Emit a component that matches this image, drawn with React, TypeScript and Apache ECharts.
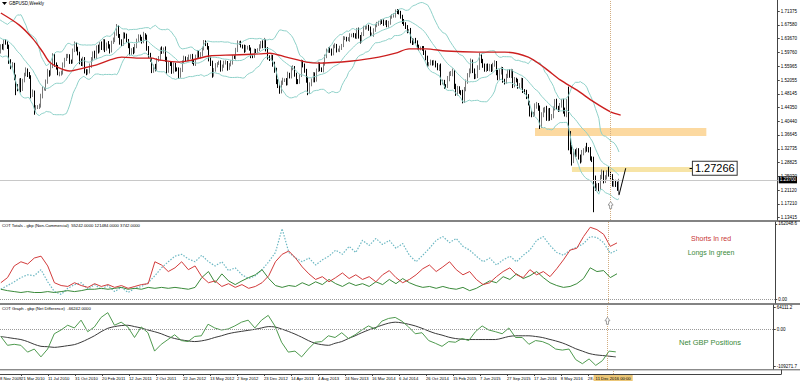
import React, { useEffect, useRef } from 'react';
import * as echarts from 'echarts';

// ---------- time axis (weekly bars, first week = 8 Nov 2009) ----------
const MONTHS = ['Jan', 'Feb', 'Mar', 'Apr', 'May', 'Jun', 'Jul', 'Aug', 'Sep', 'Oct', 'Nov', 'Dec'];
const FIRST_WEEK = Date.UTC(2009, 10, 8);
const TOTAL_WEEKS = 470;
const weekDates: string[] = Array.from({ length: TOTAL_WEEKS }, (_, i) => {
  const d = new Date(FIRST_WEEK + i * 7 * 86400000);
  return `${d.getUTCDate()} ${MONTHS[d.getUTCMonth()]} ${d.getUTCFullYear()}`;
});
const labelWeeks = [19, 35, 51, 67, 83, 99, 115, 131, 147, 163, 179, 195, 211, 227, 243, 259, 275, 291, 307, 323, 339, 355];

// ---------- GBPUSD weekly closes (index 0 = 8 Nov 2009) ----------
const closes = [
  1.6690, 1.6630, 1.6500, 1.6640, 1.6280, 1.6150, 1.6000, 1.6150, 1.6120, 1.6290, 1.6250, 1.6150, 1.5720, 1.5600, 1.5650, 1.5280, 1.5000, 1.4950, 1.5200, 1.4950,
  1.5200, 1.5350, 1.5480, 1.5360, 1.5300, 1.4780, 1.4850, 1.4430, 1.4450, 1.4460, 1.4480, 1.4750, 1.4950, 1.4950, 1.5160, 1.5430, 1.5380, 1.5600, 1.5900, 1.5650,
  1.5560, 1.5390, 1.5400, 1.5410, 1.5620, 1.5780, 1.5870, 1.5880, 1.5740, 1.5720, 1.6030, 1.6210, 1.6080, 1.5960, 1.5740, 1.5650, 1.5800, 1.5470, 1.5410, 1.5450,
  1.5600, 1.5800, 1.5950, 1.5850, 1.6140, 1.6030, 1.6220, 1.6110, 1.6300, 1.6080, 1.6220, 1.6150, 1.6030, 1.6260, 1.6330, 1.6500, 1.6690, 1.6460, 1.6280, 1.6220,
  1.6490, 1.6440, 1.6320, 1.6180, 1.5960, 1.6050, 1.6000, 1.6160, 1.6320, 1.6420, 1.6380, 1.6290, 1.6470, 1.6420, 1.6120, 1.5900, 1.5780, 1.5490, 1.5580, 1.5520,
  1.5770, 1.5820, 1.6080, 1.6000, 1.6070, 1.5800, 1.5470, 1.5680, 1.5650, 1.5450, 1.5640, 1.5520, 1.5500, 1.5330, 1.5480, 1.5710, 1.5830, 1.5780, 1.5800, 1.5860,
  1.5890, 1.5730, 1.5660, 1.5860, 1.6000, 1.5880, 1.5930, 1.6090, 1.6260, 1.6200, 1.6120, 1.5800, 1.5680, 1.5360, 1.5490, 1.5620, 1.5670, 1.5700, 1.5510, 1.5600,
  1.5700, 1.5700, 1.5540, 1.5630, 1.5700, 1.5860, 1.5850, 1.6050, 1.6240, 1.6250, 1.6160, 1.6150, 1.6040, 1.6120, 1.6130, 1.6070, 1.5890, 1.5880, 1.6030, 1.6020,
  1.6060, 1.6150, 1.6250, 1.6150, 1.6300, 1.6080, 1.5860, 1.5800, 1.5860, 1.5650, 1.5490, 1.5180, 1.5050, 1.4900, 1.5130, 1.5200, 1.5200, 1.5120, 1.5360, 1.5300,
  1.5540, 1.5550, 1.5370, 1.5170, 1.5150, 1.5330, 1.5700, 1.5620, 1.5480, 1.5210, 1.4870, 1.5080, 1.5200, 1.5360, 1.5210, 1.5490, 1.5650, 1.5520, 1.5480, 1.5650,
  1.5870, 1.6030, 1.6090, 1.6020, 1.5960, 1.6150, 1.6180, 1.6040, 1.6040, 1.6110, 1.6180, 1.6370, 1.6380, 1.6350, 1.6350, 1.6470, 1.6470, 1.6450, 1.6430, 1.6620,
  1.6430, 1.6310, 1.6500, 1.6660, 1.6680, 1.6700, 1.6660, 1.6500, 1.6500, 1.6610, 1.6730, 1.6790, 1.6800, 1.6870, 1.6850, 1.6790, 1.6840, 1.6740, 1.6810, 1.6970,
  1.7010, 1.7020, 1.7150, 1.7110, 1.7090, 1.6990, 1.6850, 1.6790, 1.6690, 1.6590, 1.6590, 1.6320, 1.6260, 1.6320, 1.6280, 1.6140, 1.6090, 1.6100, 1.6090, 1.5990,
  1.5830, 1.5650, 1.5670, 1.5710, 1.5670, 1.5710, 1.5630, 1.5540, 1.5580, 1.5150, 1.5150, 1.5040, 1.5030, 1.5240, 1.5380, 1.5390, 1.5440, 1.5040, 1.4830, 1.4970,
  1.4870, 1.4850, 1.4640, 1.4950, 1.5150, 1.5350, 1.5450, 1.5720, 1.5480, 1.5300, 1.5310, 1.5560, 1.5890, 1.5740, 1.5600, 1.5500, 1.5610, 1.5510, 1.5610, 1.5500,
  1.5640, 1.5700, 1.5420, 1.5270, 1.5430, 1.5520, 1.5180, 1.5160, 1.5310, 1.5450, 1.5330, 1.5450, 1.5060, 1.5230, 1.5190, 1.5030, 1.5050, 1.5210, 1.4910, 1.4870,
  1.4740, 1.4570, 1.4270, 1.4240, 1.4250, 1.4480, 1.4500, 1.4410, 1.3920, 1.4230, 1.4370, 1.4400, 1.4120, 1.4350, 1.4140, 1.4200, 1.4400, 1.4600, 1.4430, 1.4380,
  1.4500, 1.4600, 1.4340, 1.4250, 1.4610, 1.3680, 1.3300, 1.2950, 1.3200, 1.3110, 1.3220, 1.3050, 1.2950, 1.3160, 1.3220, 1.3280, 1.3260, 1.3250, 1.3000, 1.2970,
  1.2430, 1.2190, 1.2230, 1.2190, 1.2480, 1.2590, 1.2380, 1.2470, 1.2590, 1.2560, 1.2490, 1.2270, 1.2340, 1.2280, 1.2180, 1.2370,
];
// wick extension above / below the body, in thousandths
const wickUp = [
  6, 5, 8, 4, 9, 5, 4, 6, 7, 5, 6, 4, 5, 7, 6, 4, 8, 9, 5, 6,
  4, 6, 8, 5, 7, 4, 9, 6, 5, 4, 6, 7, 8, 5, 6, 9, 5, 7, 6, 4,
  5, 7, 4, 6, 8, 5, 7, 6, 5, 4, 6, 8, 5, 6, 4, 7, 6, 5, 4, 6,
  7, 5, 6, 8, 4, 6, 5, 7, 6, 5, 4, 8, 6, 5, 7, 6, 9, 5, 4, 7,
  6, 5, 7, 4, 6, 5, 8, 6, 5, 7, 6, 4, 9, 5, 6, 4, 7, 5, 6, 8,
  5, 6, 4, 7, 5, 8, 6, 4, 5, 7, 6, 5, 4, 6, 7, 5, 6, 4, 5, 6,
  4, 5, 7, 6, 5, 4, 6, 5, 7, 6, 5, 4, 6, 7, 5, 6, 4, 5, 6, 4,
  5, 6, 4, 5, 7, 5, 4, 6, 8, 5, 6, 4, 5, 7, 4, 6, 5, 4, 6, 5,
  4, 6, 5, 7, 9, 6, 5, 4, 6, 5, 7, 6, 5, 4, 6, 7, 5, 6, 8, 5,
  6, 7, 5, 4, 6, 5, 8, 6, 5, 4, 9, 6, 5, 7, 6, 4, 7, 5, 4, 6,
  5, 6, 4, 5, 7, 5, 6, 4, 5, 6, 4, 7, 5, 4, 6, 5, 4, 6, 7, 5,
  6, 4, 5, 7, 5, 4, 6, 5, 4, 5, 6, 5, 7, 4, 5, 6, 4, 5, 6, 5,
  5, 6, 4, 5, 8, 6, 5, 7, 4, 6, 5, 8, 6, 5, 7, 4, 6, 5, 6, 7,
  5, 6, 4, 7, 5, 6, 4, 5, 6, 9, 7, 6, 5, 8, 6, 7, 9, 5, 6, 7,
  6, 5, 8, 6, 7, 5, 8, 9, 6, 5, 7, 6, 8, 5, 6, 7, 5, 6, 5, 4,
  5, 6, 4, 7, 8, 6, 5, 6, 7, 5, 6, 7, 5, 6, 4, 5, 7, 6, 5, 4,
  6, 7, 5, 8, 6, 7, 9, 6, 8, 7, 6, 5, 8, 6, 7, 5, 6, 7, 8, 5,
  6, 7, 8, 9, 6, 41, 9, 8, 7, 6, 8, 7, 6, 8, 7, 6, 16, 6, 7, 6,
  8, 9, 7, 8, 6, 10, 7, 6, 8, 19, 9, 7, 8, 6, 7, 6,
];
const wickDown = [
  5, 7, 6, 8, 5, 6, 9, 5, 6, 8, 5, 7, 6, 9, 5, 8, 22, 6, 7, 9,
  5, 6, 4, 7, 6, 9, 5, 20, 8, 6, 7, 5, 6, 4, 5, 6, 8, 5, 6, 7,
  6, 5, 8, 7, 5, 6, 4, 5, 8, 6, 5, 4, 7, 6, 9, 5, 6, 8, 7, 5,
  6, 5, 7, 4, 6, 8, 5, 6, 7, 9, 5, 6, 8, 5, 4, 6, 5, 7, 8, 6,
  5, 7, 6, 8, 6, 5, 7, 4, 6, 5, 7, 6, 5, 8, 9, 7, 6, 9, 8, 7,
  6, 5, 7, 6, 5, 8, 9, 6, 5, 7, 6, 8, 5, 9, 6, 5, 4, 6, 5, 7,
  6, 7, 5, 6, 4, 5, 7, 6, 5, 4, 6, 7, 8, 9, 6, 5, 6, 4, 7, 6,
  5, 6, 7, 5, 4, 6, 5, 7, 6, 5, 4, 6, 7, 5, 6, 4, 7, 6, 5, 6,
  5, 4, 6, 5, 4, 7, 8, 6, 5, 7, 8, 9, 7, 8, 7, 6, 5, 7, 6, 5,
  5, 6, 7, 8, 6, 5, 4, 6, 7, 8, 9, 6, 5, 6, 7, 5, 6, 7, 5, 6,
  4, 5, 6, 5, 7, 6, 5, 6, 4, 5, 6, 5, 4, 6, 5, 7, 6, 5, 6, 7,
  6, 8, 5, 6, 4, 5, 7, 6, 5, 8, 5, 4, 6, 5, 7, 6, 4, 5, 6, 5,
  4, 5, 6, 5, 4, 6, 7, 6, 5, 7, 6, 8, 7, 6, 5, 7, 6, 5, 6, 8,
  7, 8, 6, 5, 6, 5, 7, 6, 8, 9, 7, 8, 6, 5, 7, 6, 8, 9, 7, 6,
  5, 7, 9, 8, 6, 5, 7, 6, 8, 7, 6, 5, 7, 6, 5, 6, 7, 5, 6, 7,
  5, 6, 8, 7, 6, 7, 5, 8, 6, 5, 6, 7, 8, 6, 5, 7, 6, 8, 7, 6,
  7, 8, 9, 8, 7, 6, 8, 7, 9, 6, 7, 8, 6, 7, 8, 6, 7, 5, 6, 7,
  6, 7, 8, 7, 9, 45, 18, 15, 8, 7, 6, 8, 9, 6, 7, 6, 7, 8, 6, 7,
  94, 10, 8, 11, 7, 6, 8, 7, 6, 7, 8, 6, 7, 8, 9, 19,
];

// red moving average: [week index] -> price
const maWeeks = [7, 18, 26, 32, 36, 42, 48, 56, 64, 72, 79, 90, 97, 101, 113, 121, 131, 145, 161, 167, 177, 189, 196, 216, 232, 242, 250, 260, 272, 291, 307, 321, 331, 340, 350, 360, 370, 376];
const maValues = [1.709, 1.675, 1.637, 1.599, 1.571, 1.554, 1.546, 1.554, 1.563, 1.577, 1.585, 1.582, 1.582, 1.577, 1.571, 1.577, 1.588, 1.591, 1.594, 1.596, 1.585, 1.571, 1.568, 1.574, 1.585, 1.596, 1.608, 1.608, 1.602, 1.599, 1.599, 1.585, 1.554, 1.521, 1.492, 1.459, 1.431, 1.422];

const priceTicks = [1.71375, 1.6758, 1.6367, 1.5976, 1.55965, 1.52055, 1.48145, 1.4435, 1.4044, 1.36645, 1.32735, 1.28825, 1.2503, 1.2112, 1.1721, 1.13415];
const bidPrice = 1.2370;
const levelPrice = 1.27266;
const zoneA = [325, 427, 1.3857, 1.3632];
const zoneB = [347, 420, 1.2761, 1.2620];
const cursorWeek = 370;

// ---------- COT data, one reading every 4 weeks from week 7 (thousands of contracts) ----------
const COT_START = 7;
const COT_STEP = 4;
const shortsK = [
  36, 47, 72, 81, 76, 89, 93, 72, 36, 30, 28, 36, 30, 26, 34, 28, 32, 26, 30, 24,
  28, 32, 34, 81, 74, 60, 68, 81, 64, 72, 49, 36, 40, 28, 34, 26, 32, 24, 28, 36,
  51, 81, 97, 104, 89, 70, 55, 43, 49, 38, 47, 57, 45, 53, 43, 49, 38, 53, 62, 47,
  36, 43, 53, 66, 74, 60, 70, 81, 64, 53, 60, 43, 32, 36, 49, 60, 68, 53, 47, 64,
  53, 60, 49, 66, 85, 106, 110, 135, 155, 150, 140, 114, 121.484,
];
const longsK = [
  22, 19, 17, 15, 17, 15, 15, 17, 15, 17, 19, 17, 19, 22, 22, 24, 22, 24, 26, 22,
  24, 22, 26, 24, 26, 24, 26, 24, 22, 26, 47, 60, 36, 55, 40, 32, 40, 47, 53, 64,
  45, 30, 26, 30, 28, 36, 30, 38, 32, 43, 34, 28, 36, 30, 34, 28, 38, 32, 43, 34,
  45, 36, 30, 26, 28, 24, 28, 24, 22, 26, 19, 24, 32, 40, 36, 49, 43, 55, 45, 51,
  60, 47, 36, 30, 26, 28, 34, 45, 68, 60, 62, 47, 55.242,
];
const dottedK = [
  22, 30, 38, 47, 53, 51, 64, 38, 17, 11, 24, 32, 36, 22, 32, 22, 30, 17, 26, 15,
  24, 28, 36, 51, 68, 81, 93, 97, 87, 81, 95, 81, 72, 81, 62, 68, 53, 45, 51, 64,
  81, 101, 152, 101, 89, 81, 89, 74, 85, 93, 106, 97, 114, 101, 127, 116, 131, 118, 127, 110,
  120, 95, 81, 95, 110, 127, 135, 122, 131, 114, 106, 93, 81, 89, 74, 85, 93, 81, 95, 106,
  127, 135, 116, 101, 95, 106, 112, 120, 135, 133, 122, 99, 106,
];
const netK = [
  -21, -47, -44, -47, -67, -58, -81, -58, -13, -2, 12, 4, 27, -7, 7, 35, 49, 12, 21, 7,
  -24, 7, -10, -64, -44, -30, -16, -33, -36, -21, -19, 15, 4, -2, 1, 10, 21, 27, 4, 27,
  41, 10, -38, -67, -64, -81, -58, -38, -36, -19, -24, -10, -27, -16, -2, 10, 1, 24, 32, 35,
  24, 7, -13, -10, -33, -41, -50, -36, -38, -27, -33, -7, 10, -2, -7, -13, 4, -24, -24, -44,
  -33, -36, -44, -58, -61, -58, -89, -101, -87, -106, -92, -64, -66.242,
];
const netAvgK = [
  -21, -24, -27, -30, -36, -44, -50, -51, -53, -51, -48, -45, -38, -29, -19, -7, 3, 8, 11, 12,
  8, 4, -2, -7, -13, -21, -27, -31, -34, -36, -34, -30, -24, -19, -13, -9, -6, -3, 0, 4,
  8, 7, 1, -6, -14, -23, -33, -41, -45, -47, -41, -36, -27, -19, -10, -2, 5, 12, 18, 21,
  19, 15, 10, 3, -5, -12, -17, -23, -27, -29, -30, -30, -30, -30, -30, -26, -21, -19, -19, -19,
  -21, -24, -29, -34, -40, -48, -57, -64, -71, -75, -77, -79, -81,
];

const FONT = '"Liberation Sans", Arial, sans-serif';
const X_MIN = 7;
const X_MAX = TOTAL_WEEKS - 1;
const CURSOR_COLOR = '#d2ad80';
const BAND_COLOR = '#8fd1c9';

function cot(values: number[]) {
  return values.map((v, i) => [weekDates[COT_START + COT_STEP * i], v * 1000]);
}

function buildOption() {
  const candles = closes.map((c, i) => {
    const o = i === 0 ? c : closes[i - 1];
    return [o, c, Math.min(o, c) - wickDown[i] / 1000, Math.max(o, c) + wickUp[i] / 1000];
  });
  // Bollinger bands (20, 2) of the closes
  const mid: number[] = [];
  const up: number[] = [];
  const dn: number[] = [];
  closes.forEach((_, i) => {
    const s = closes.slice(Math.max(0, i - 19), i + 1);
    const m = s.reduce((a, b) => a + b, 0) / s.length;
    const sd = Math.sqrt(s.reduce((a, b) => a + (b - m) * (b - m), 0) / s.length);
    mid.push(m);
    up.push(m + 2 * sd);
    dn.push(m - 2 * sd);
  });

  const labelFn = (idx: number) => labelWeeks.indexOf(idx) >= 0;
  const xAxes = [0, 1, 2, 3].map((g) => ({
    type: 'category',
    gridIndex: g,
    data: weekDates,
    min: X_MIN,
    max: X_MAX,
    boundaryGap: true,
    axisLine: { show: g === 3, lineStyle: { color: '#444', width: 1 } },
    axisTick: { show: g === 3, interval: labelFn, alignWithLabel: true, length: 2, lineStyle: { color: '#444' } },
    axisLabel: { show: g === 3, interval: labelFn, align: 'left', fontSize: 4.2, margin: 2, color: '#000', fontFamily: FONT },
    splitLine: { show: false },
  }));

  const yBase = {
    type: 'value',
    position: 'right',
    splitLine: { show: false },
    axisLine: { show: true, lineStyle: { color: '#444', width: 1 } },
  };
  const lbl = { fontSize: 4.5, margin: 3, color: '#000', fontFamily: FONT };
  const yAxes = [
    {
      ...yBase, gridIndex: 0, min: 1.1271, max: 1.7455,
      axisTick: { show: true, length: 2, customValues: priceTicks, lineStyle: { color: '#444' } },
      axisLabel: { ...lbl, customValues: priceTicks, formatter: (v: number) => v.toFixed(5) },
    },
    {
      ...yBase, gridIndex: 1, min: -7500, max: 166300,
      axisTick: { show: true, length: 2, customValues: [162048.6, 0], lineStyle: { color: '#444' } },
      axisLabel: { ...lbl, customValues: [162048.6, 0], formatter: (v: number) => (v === 0 ? '0.00' : v.toFixed(1)) },
    },
    {
      ...yBase, gridIndex: 2, min: -116600, max: 71500,
      axisTick: { show: true, length: 2, customValues: [64111.2, 0, -109271.7], lineStyle: { color: '#444' } },
      axisLabel: { ...lbl, customValues: [64111.2, 0, -109271.7], formatter: (v: number) => (v === 0 ? '0.00' : v.toFixed(1)) },
    },
    { ...yBase, gridIndex: 3, min: 0, max: 1, axisTick: { show: false }, axisLabel: { show: false } },
  ];

  const cursorLine = { type: 'dotted', color: CURSOR_COLOR, width: 1 };
  const arrow = 'path://M5,0 L10,5 L7,5 L7,10 L3,10 L3,5 L0,5 Z';
  const lineS = (x: number, data: any, color: string, extra: any = {}) => {
    const { lineStyle: ls, ...rest } = extra;
    return {
      type: 'line', xAxisIndex: x, yAxisIndex: x, data, symbol: 'none', silent: true,
      itemStyle: { color },
      lineStyle: { color, width: 1, ...(ls || {}) },
      ...rest,
    };
  };

  const series: any[] = [
    {
      type: 'candlestick',
      xAxisIndex: 0,
      yAxisIndex: 0,
      data: candles,
      barWidth: 1.2,
      silent: true,
      itemStyle: { color: '#b4b4b4', color0: '#000', borderColor: '#7a7a7a', borderColor0: '#000', borderWidth: 1 },
      markArea: {
        silent: true,
        data: [
          [{ coord: [weekDates[zoneA[0]], zoneA[2]], itemStyle: { color: '#fcd9a0' } }, { coord: [weekDates[zoneA[1]], zoneA[3]] }],
          [{ coord: [weekDates[zoneB[0]], zoneB[2]], itemStyle: { color: '#f7e4a6' } }, { coord: [weekDates[zoneB[1]], zoneB[3]] }],
        ],
      },
      markLine: {
        silent: true,
        symbol: ['none', 'none'],
        label: { show: false },
        data: [
          {
            yAxis: bidPrice,
            lineStyle: { color: '#c8c8c8', type: 'solid', width: 1 },
            label: { show: true, position: 'end', formatter: bidPrice.toFixed(5), backgroundColor: '#000', color: '#fff', fontSize: 4.5, padding: [1, 1], distance: 1, fontFamily: FONT },
          },
          { xAxis: weekDates[cursorWeek], lineStyle: cursorLine },
          [
            { coord: [weekDates[375], 1.197], lineStyle: { color: '#000', type: 'solid', width: 1 } },
            { coord: [weekDates[379], levelPrice] },
          ],
          [
            {
              coord: [weekDates[417], levelPrice],
              lineStyle: { color: '#000', type: 'solid', width: 1 },
              label: { show: true, position: 'end', formatter: levelPrice.toFixed(5), color: '#000', fontSize: 11, backgroundColor: '#fff', borderColor: '#333', borderWidth: 1, padding: [1, 2], distance: 0, fontFamily: FONT },
            },
            { coord: [weekDates[419], levelPrice] },
          ],
        ],
      },
      markPoint: {
        silent: true,
        symbol: arrow,
        symbolSize: [5, 7],
        itemStyle: { color: '#fff', borderColor: '#888', borderWidth: 0.8 },
        label: { show: false },
        data: [{ coord: [weekDates[cursorWeek], 1.169] }],
      },
    },
    lineS(0, up, BAND_COLOR),
    lineS(0, mid, BAND_COLOR),
    lineS(0, dn, BAND_COLOR),
    lineS(0, maWeeks.map((w, i) => [weekDates[w], maValues[i]]), '#cc1f1f', { smooth: 0.3, lineStyle: { width: 1.4 } }),
    lineS(1, cot(dottedK), '#6db8c3', { lineStyle: { type: [1.5, 1.5], width: 1.2 } }),
    lineS(1, cot(longsK), '#3a8a3a'),
    lineS(1, cot(shortsK), '#d23c3c', {
      markLine: {
        silent: true, symbol: ['none', 'none'], label: { show: false },
        data: [
          { yAxis: 0, lineStyle: { type: 'dotted', color: '#9a9a9a', width: 1 } },
          { xAxis: weekDates[cursorWeek], lineStyle: cursorLine },
        ],
      },
    }),
    lineS(2, cot(netAvgK), '#3a3a3a', { smooth: 0.3 }),
    lineS(2, cot(netK), '#4f9a4f', {
      markLine: {
        silent: true, symbol: ['none', 'none'], label: { show: false },
        data: [
          { yAxis: 0, lineStyle: { type: 'dotted', color: '#9a9a9a', width: 1 } },
          { xAxis: weekDates[cursorWeek], lineStyle: cursorLine },
        ],
      },
      markPoint: {
        silent: true, symbol: arrow, symbolSize: [5, 7],
        itemStyle: { color: '#fff', borderColor: '#888', borderWidth: 0.8 },
        label: { show: false },
        data: [{ coord: [weekDates[cursorWeek], 25000] }],
      },
    }),
    lineS(3, [[weekDates[X_MIN], 0.5]], 'rgba(0,0,0,0)', {
      markLine: {
        silent: true, symbol: ['none', 'none'],
        data: [
          {
            xAxis: weekDates[cursorWeek],
            lineStyle: cursorLine,
            label: { show: true, position: 'start', formatter: '11 Dec 2016 00:00', backgroundColor: '#ecc778', color: '#000', fontSize: 4.2, padding: [1, 2], distance: 1, fontFamily: FONT },
          },
        ],
      },
    }),
  ];

  const sep = (y: number, w: number) => ({
    type: 'line', silent: true, shape: { x1: 0, y1: y, x2: 800, y2: y }, style: { stroke: '#5a5a5a', lineWidth: w },
  });
  const txt = (x: number, y: number, text: string, size: number, color: string, align = 'left') => ({
    type: 'text', silent: true, x, y,
    style: { text, fontSize: size, fill: color, fontFamily: FONT, textAlign: align, textVerticalAlign: 'middle' },
  });

  return {
    animation: false,
    backgroundColor: '#fff',
    textStyle: { fontFamily: FONT },
    grid: [
      { left: 0, right: 19, top: 0, height: 220 },
      { left: 0, right: 19, top: 222, height: 81 },
      { left: 0, right: 19, top: 305, height: 64 },
      { left: 0, right: 19, top: 370, height: 4 },
    ],
    xAxis: xAxes,
    yAxis: yAxes,
    series,
    graphic: [
      sep(221, 1.5),
      sep(304, 1.5),
      sep(369.8, 1),
      { type: 'polygon', silent: true, shape: { points: [[2, 2], [7, 2], [4.5, 5]] }, style: { fill: '#000' } },
      txt(9, 3.5, 'GBPUSD,Weekly', 4.5, '#000'),
      txt(2, 225, 'COT Totals - gbp (Non-Commercial)  55242.0000 121484.0000 3742.0000', 4.2, '#000'),
      txt(2, 308, 'COT Graph - gbp (Net Difference)  -66242.0000', 4.2, '#000'),
      txt(0, 378.5, '8 Nov 2009', 4.2, '#000'),
      txt(711, 238, 'Shorts In red', 7, '#c83434', 'center'),
      txt(711, 252, 'Longs In green', 7, '#3a8a3a', 'center'),
      txt(710, 342, 'Net GBP Positions', 7.5, '#3a8a3a', 'center'),
    ],
  };
}

export default function App() {
  const ref = useRef<HTMLDivElement>(null);
  useEffect(() => {
    const chart = echarts.init(ref.current as HTMLDivElement, undefined, { renderer: 'svg' });
    chart.setOption(buildOption() as any);
    return () => chart.dispose();
  }, []);
  return <div ref={ref} style={{ position: 'fixed', left: 0, top: 0, width: 800, height: 382, background: '#fff' }} />;
}
